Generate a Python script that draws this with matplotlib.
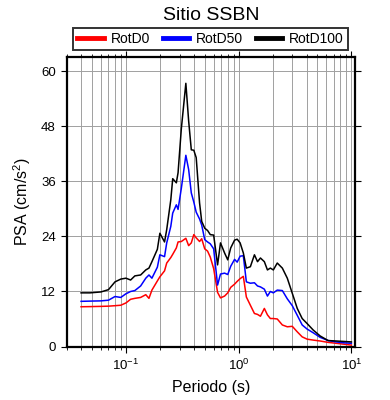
import numpy as np
import matplotlib
matplotlib.use("Agg")
import matplotlib.pyplot as plt
from matplotlib.ticker import LogLocator, FixedLocator, NullFormatter, LogFormatterSciNotation

plt.rcParams['font.family'] = ['Liberation Sans', 'DejaVu Sans']
plt.rcParams['mathtext.fontset'] = 'custom'
plt.rcParams['mathtext.rm'] = 'Liberation Sans'
plt.rcParams['mathtext.it'] = 'Liberation Sans:italic'
plt.rcParams['mathtext.bf'] = 'Liberation Sans:bold'

title = "Sitio SSBN"
series_names = ["RotD0", "RotD50", "RotD100"]
series_colors = ["#ff0000", "#0000ff", "#000000"]

periods = [0.04, 0.048, 0.06, 0.07, 0.08, 0.09, 0.10, 0.11, 0.12, 0.135,
           0.15, 0.16, 0.17, 0.19, 0.20, 0.22, 0.23, 0.25, 0.26, 0.28,
           0.29, 0.31, 0.34, 0.36, 0.38, 0.40, 0.42, 0.45, 0.47, 0.50,
           0.53, 0.56, 0.60, 0.65, 0.69, 0.75, 0.80, 0.85, 0.92, 0.97,
           1.03, 1.10, 1.17, 1.27, 1.38, 1.47, 1.56, 1.69, 1.80, 1.91,
           2.03, 2.20, 2.44, 2.70, 2.99, 3.31, 3.66, 4.05, 4.58, 5.28,
           6.21, 7.31, 8.61, 10.0]

rotd100 = [11.7, 11.7, 11.9, 12.4, 14.1, 14.7, 14.9, 14.5, 15.4, 15.6,
           16.7, 17.1, 18.5, 21.2, 24.7, 22.8, 25.5, 32.0, 36.6, 35.7,
           37.9, 47.5, 57.4, 49.2, 42.9, 42.8, 41.2, 31.3, 27.3, 25.8,
           25.3, 24.4, 24.3, 17.8, 22.6, 20.4, 18.9, 21.5, 23.2, 23.4,
           22.6, 20.4, 17.1, 17.4, 20.0, 18.5, 19.3, 18.5, 16.7, 17.1,
           16.7, 18.2, 17.1, 14.9, 11.6, 8.3, 6.1, 5.0, 3.6, 2.3,
           1.3, 1.2, 1.1, 1.0]

rotd50 = [9.85, 9.9, 9.95, 10.1, 10.9, 10.7, 11.5, 12.0, 12.2, 13.2,
          14.9, 15.6, 14.9, 17.3, 20.0, 19.6, 22.6, 26.2, 29.1, 30.9,
          29.9, 34.5, 41.7, 38.6, 33.5, 31.5, 29.3, 27.8, 26.5, 23.3,
          22.8, 22.4, 21.3, 13.4, 15.8, 16.0, 15.7, 17.5, 19.0, 18.4,
          19.7, 19.8, 14.1, 13.8, 13.9, 13.2, 13.0, 12.5, 11.0, 12.0,
          11.7, 12.3, 12.2, 10.4, 8.9, 6.8, 4.7, 3.8, 3.0, 2.0,
          1.3, 1.0, 0.8, 0.7]

rotd0 = [8.67, 8.7, 8.75, 8.8, 8.9, 9.0, 9.5, 10.3, 10.5, 10.7,
         11.3, 10.5, 12.3, 14.3, 15.2, 16.5, 18.2, 19.4, 20.1, 21.5,
         22.8, 22.9, 23.6, 22.0, 22.6, 24.4, 23.7, 22.9, 23.5, 21.3,
         20.8, 19.5, 17.0, 11.8, 10.6, 11.0, 11.7, 12.9, 13.6, 14.2,
         14.8, 15.3, 10.8, 9.0, 7.2, 7.0, 6.6, 8.3, 6.9, 6.1,
         6.1, 6.0, 4.7, 4.3, 4.4, 3.2, 2.1, 1.6, 1.4, 1.2,
         0.9, 0.7, 0.5, 0.3]

yticks = [0, 12, 24, 36, 48, 60]

fig = plt.figure(figsize=(3.9, 4.0), dpi=100)
ax = fig.add_axes([67/390, 1-346.5/400, (354.7-67)/390, (346.5-57)/400])

for vals, name, col in zip([rotd0, rotd50, rotd100], series_names, series_colors):
    ax.plot(periods, vals, color=col, lw=1.1, label=name, zorder=3)

ax.set_xscale('log')
ax.set_xlim(0.03, 10.7)
ax.set_ylim(0, 1.1 * max(rotd100))
ax.yaxis.set_major_locator(FixedLocator(yticks))
ax.xaxis.set_major_locator(LogLocator(base=10, numticks=10))
ax.xaxis.set_minor_locator(LogLocator(base=10, subs=np.arange(2, 10), numticks=20))
ax.xaxis.set_minor_formatter(NullFormatter())
ax.xaxis.set_major_formatter(LogFormatterSciNotation())

ax.grid(True, which='major', axis='both', color='#a0a0a0', lw=0.7, zorder=1)
ax.grid(True, which='minor', axis='x', color='#a0a0a0', lw=0.7, zorder=1)

for s in ax.spines.values():
    s.set_linewidth(1.6)
ax.tick_params(which='both', direction='out', top=True, right=True,
               labeltop=False, labelright=False, labelsize=9.5, color='black')
ax.tick_params(which='major', length=4.5, width=0.8)
ax.tick_params(which='minor', length=2.5, width=0.6)

ax.set_xlabel("Periodo (s)", fontsize=11.5, labelpad=5)
ax.set_ylabel(r"PSA (cm/s$^{2}$)", fontsize=11.5, labelpad=6)

fig.text((67+354.7)/2/390, 1-20/400, title, ha='center', va='baseline', fontsize=14)

leg = fig.legend(loc='center', bbox_to_anchor=(210.5/390, 1-39/400),
                 ncol=3, fontsize=10, frameon=True, fancybox=False,
                 edgecolor='black', handlelength=1.9, handletextpad=0.5,
                 borderpad=0.3, borderaxespad=0, columnspacing=0.9)
leg.get_frame().set_linewidth(1.4)
for h in leg.get_lines():
    h.set_linewidth(3.5)

fig.savefig("out.png", dpi=100)
